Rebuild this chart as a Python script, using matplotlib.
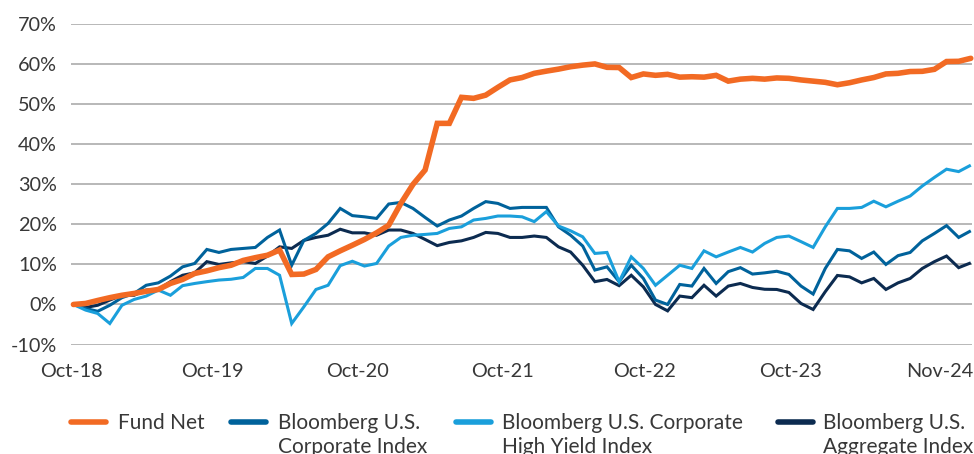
import numpy as np
import matplotlib
matplotlib.use('Agg')
import matplotlib.pyplot as plt
from matplotlib.lines import Line2D

# cumulative returns (%), monthly, Sep-18 base through Nov-24
fund_net = [0, 0.25, 1.0, 1.7, 2.3, 2.75, 3.3, 3.75, 5.25, 6.25, 7.75, 8.4, 9.2, 9.8,
            11.0, 11.7, 12.3, 13.6, 7.5, 7.6, 8.75, 11.9, 13.4, 14.8, 16.25, 17.9, 19.8,
            25.25, 30.0, 33.6, 45.25, 45.25, 51.75, 51.5, 52.3, 54.25, 56.1, 56.7, 57.75,
            58.3, 58.8, 59.4, 59.8, 60.1, 59.25, 59.2, 56.7, 57.6, 57.25, 57.5, 56.8, 56.9,
            56.8, 57.25, 55.8, 56.3, 56.5, 56.3, 56.6, 56.5, 56.1, 55.8, 55.5, 54.9, 55.4,
            56.1, 56.7, 57.6, 57.75, 58.2, 58.25, 58.75, 60.7, 60.75, 61.5]
corporate = [0, -1.0, -1.7, -0.2, 1.7, 2.75, 4.8, 5.4, 7.1, 9.4, 10.25, 13.75, 13.0, 13.75,
             14.0, 14.25, 16.75, 18.6, 9.8, 16.0, 17.75, 20.25, 24.0, 22.2, 21.9, 21.5, 25.1,
             25.5, 24.0, 21.75, 19.6, 21.1, 22.1, 24.0, 25.7, 25.25, 24.0, 24.25, 24.25, 24.25,
             19.4, 17.3, 14.6, 8.6, 9.4, 5.7, 9.8, 6.5, 1.1, 0.0, 5.0, 4.6, 9.0, 5.25, 8.2,
             9.2, 7.6, 7.9, 8.3, 7.5, 4.6, 2.6, 9.0, 13.75, 13.4, 11.5, 13.1, 10.0, 12.2, 13.0,
             15.9, 17.75, 19.7, 16.75, 18.4]
high_yield = [0, -1.4, -2.25, -4.75, -0.2, 1.25, 2.1, 3.6, 2.3, 4.7, 5.25, 5.7, 6.1, 6.3,
              6.75, 9.0, 9.0, 7.3, -4.75, -0.6, 3.75, 4.8, 9.7, 10.8, 9.6, 10.25, 14.6, 16.75,
              17.3, 17.5, 17.75, 19.0, 19.4, 21.1, 21.5, 22.1, 22.1, 21.9, 20.7, 23.2, 19.6,
              18.4, 16.9, 12.75, 13.0, 5.7, 11.9, 9.0, 4.8, 7.3, 9.8, 9.0, 13.4, 11.9, 13.1,
              14.25, 13.1, 15.25, 16.75, 17.1, 15.7, 14.25, 19.4, 24.0, 24.0, 24.25, 25.8,
              24.4, 25.8, 27.1, 29.6, 31.75, 33.8, 33.2, 34.8]
aggregate = [0, -0.75, -0.2, 1.1, 2.3, 2.3, 3.6, 3.75, 5.7, 7.3, 7.9, 10.7, 10.0, 10.4,
             10.7, 10.25, 12.1, 14.4, 14.0, 16.0, 16.75, 17.3, 18.8, 17.9, 17.9, 17.3, 18.6,
             18.6, 17.75, 16.25, 14.7, 15.5, 15.9, 16.75, 18.0, 17.75, 16.75, 16.75, 17.1,
             16.75, 14.4, 13.1, 9.8, 5.7, 6.25, 4.7, 7.3, 4.4, 0.0, -1.6, 2.1, 1.7, 4.8, 2.1,
             4.6, 5.25, 4.25, 3.8, 3.75, 3.0, 0.25, -1.25, 3.2, 7.25, 6.9, 5.4, 6.5, 3.75,
             5.4, 6.5, 9.0, 10.7, 12.1, 9.2, 10.4]

tick_labels = ['Oct-18', 'Oct-19', 'Oct-20', 'Oct-21', 'Oct-22', 'Oct-23', 'Nov-24']
tick_pos = [-0.2, 11.5, 23.4, 35.4, 47.1, 59.1, 71.4]
y_ticks = np.arange(-10, 71, 10)

names = ['Fund Net', 'Bloomberg U.S.\nCorporate Index',
         'Bloomberg U.S. Corporate\nHigh Yield Index', 'Bloomberg U.S.\nAggregate Index']
colors = ['#F26A23', '#00629B', '#1A9FDB', '#0C2B50']

plt.rcParams['font.family'] = ['Lato', 'DejaVu Sans']
text_color = '#383838'

fig = plt.figure(figsize=(9.74, 4.54), dpi=100)
ax = fig.add_axes([71 / 974, 1 - 344.5 / 454, 901 / 974, (344.5 - 24.3) / 454])

x = np.arange(len(fund_net))
series = [fund_net, corporate, high_yield, aggregate]
widths = [4.0, 2.2, 2.2, 2.2]
zorders = [5, 3, 4, 2]
for vals, c, lw, z in zip(series, colors, widths, zorders):
    ax.plot(x, vals, color=c, lw=lw, zorder=z, solid_joinstyle='miter',
            solid_capstyle='round' if lw > 3 else 'butt', clip_on=False)

ax.set_xlim(-0.14, 74.1)
ax.set_ylim(-10, 70)
ax.set_yticks(y_ticks)
ax.set_yticklabels(['%d%%' % v for v in y_ticks])
ax.set_xticks(tick_pos)
ax.set_xticklabels(tick_labels)
ax.grid(axis='y', color='#ABABAB', lw=1.2, zorder=0)
ax.set_axisbelow(True)
for s in ax.spines.values():
    s.set_visible(False)
ax.tick_params(axis='both', length=0, labelsize=14.3, colors=text_color)
ax.tick_params(axis='y', pad=10)
ax.tick_params(axis='x', pad=13)

# legend drawn by hand: handle aligned with first line of label
handle_x = [71, 231, 456, 778]
text_x = [118, 278, 502, 823]
base_y = 429
for hx, tx, name, c in zip(handle_x, text_x, names, colors):
    fig.add_artist(Line2D([hx / 974, (hx + 35) / 974], [1 - 422 / 454, 1 - 422 / 454],
                          color=c, lw=4, solid_capstyle='round', transform=fig.transFigure))
    for k, line in enumerate(name.split('\n')):
        fig.text(tx / 974, 1 - (base_y + 24 * k) / 454, line, fontsize=15,
                 color=text_color, ha='left', va='baseline')

fig.savefig('out.png', dpi=100)
